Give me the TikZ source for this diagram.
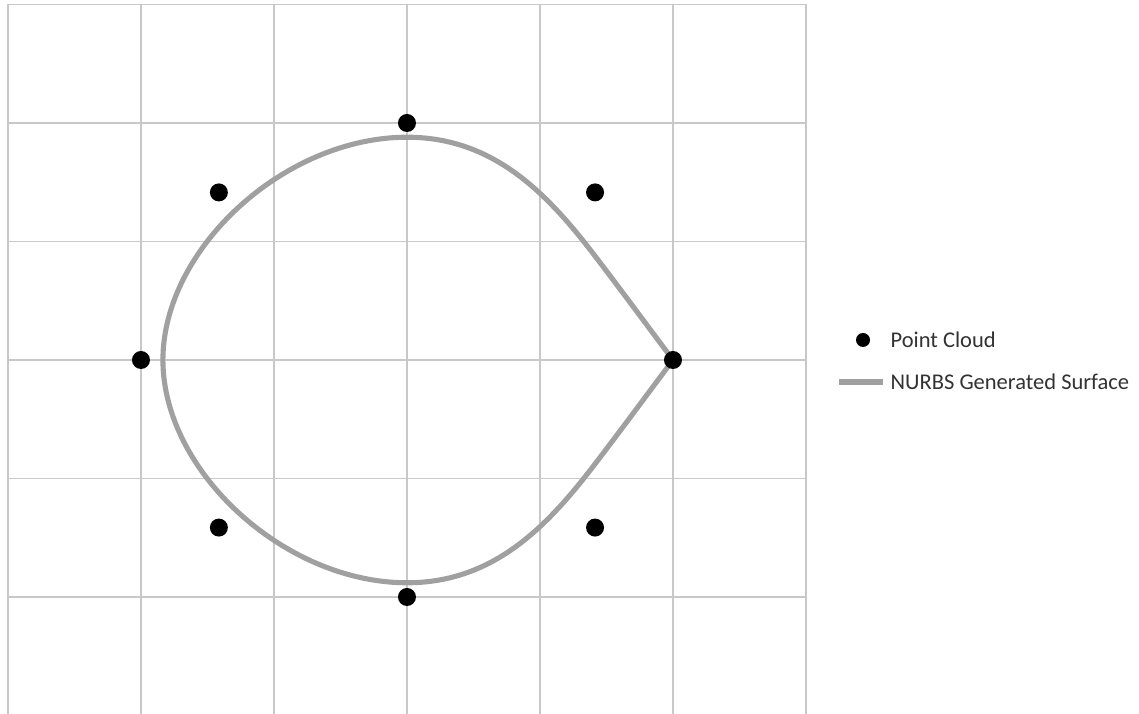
\documentclass[tikz,border=0pt]{standalone}
\usepackage{fontspec}
\setmainfont{Carlito}
\usetikzlibrary{positioning}
\definecolor{gridgray}{RGB}{200,200,200}
\definecolor{nurbsgray}{RGB}{160,160,160}
\definecolor{legtext}{RGB}{50,50,50}
\begin{document}
\begin{tikzpicture}[
  x=1.33cm, y=1.185cm,
  font=\fontsize{6.4}{7.7}\selectfont,
  gridline/.style={gridgray, line width=0.3pt},
  cloudpt/.style={circle, fill=black, inner sep=0pt, minimum size=0.18cm},
  nurbs/.style={nurbsgray, line width=1.45pt, line join=round},
  legtxt/.style={anchor=west, inner xsep=0.07cm, inner ysep=0pt, text=legtext}
]
\useasboundingbox (-3.060,-2.987) rectangle (5.504,3.038);
\foreach \x in {-3,...,3} \draw[gridline] (\x,-2.987) -- (\x,3);
\foreach \y in {-2,...,3} \draw[gridline] (-3,\y) -- (3,\y);
\coordinate (cusp) at (2,0);
\draw[nurbs] (cusp) .. controls (1.8,0.3) and (1.482,0.783) .. (1.338,0.987)
  .. controls (0.992,1.477) and (0.6,1.88) .. (0,1.88)
  .. controls (-0.92,1.88) and (-1.835,0.94) .. (-1.835,0)
  .. controls (-1.835,-0.94) and (-0.92,-1.88) .. (0,-1.88)
  .. controls (0.6,-1.88) and (0.992,-1.477) .. (1.338,-0.987)
  .. controls (1.482,-0.783) and (1.8,-0.3) .. (cusp);
\foreach \a [count=\i] in {0,45,...,315}
  \node[cloudpt] (pt\i) at (\a:2) {};
\node[cloudpt, minimum size=0.14cm] (legdot) at (3.429,0.169) {};
\node[legtxt] (legcloud) at (3.579,0.169) {Point Cloud};
\node[legtxt] (legnurbs) at (3.579,-0.186) {NURBS Generated Surface};
\coordinate (legline) at (3.248,-0.186);
\draw[nurbs] (legline) -- (legnurbs.west);
\end{tikzpicture}
\end{document}
